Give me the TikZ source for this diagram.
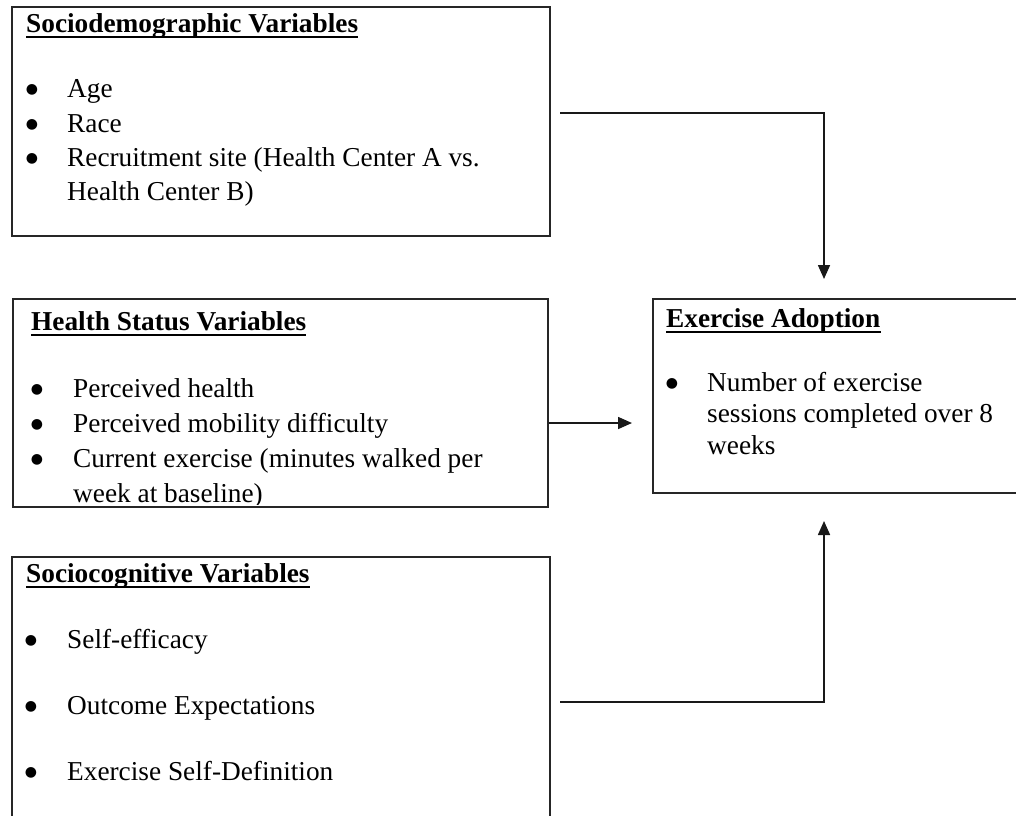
\documentclass[tikz,border=0pt]{standalone}
\usepackage{fontspec}
\setmainfont{Liberation Serif}
\newfontfamily\bulfont{DejaVu Sans}
\usetikzlibrary{arrows.meta}
\begin{document}
\begin{tikzpicture}[x=1pt,y=-1pt,
  box/.style={draw=black!85, line width=1.4pt, inner sep=0pt},
  txt/.style={anchor=base west, inner sep=0pt, font=\fontsize{27.3}{33}\selectfont},
  head/.style={anchor=base west, inner sep=0pt, font=\fontsize{27.3}{33}\selectfont\bfseries},
  bul/.style={anchor=center, inner sep=0pt, font=\bulfont\fontsize{14}{14}\selectfont},
  conn/.style={line width=1.6pt, draw=black!90},
  arr/.style={conn, -{Triangle[length=14pt,width=12pt]}},
  ul/.style={line width=1.8pt}]
\clip (0,0) rectangle (1016,815);
\fill[white] (0,0) rectangle (1016,815);

% boxes
\node[box, minimum width=538pt, minimum height=229pt] (b1) at (281,121.5) {};
\node[box, minimum width=535pt, minimum height=208pt] (b2) at (280.5,403) {};
\node[box, minimum width=538pt, minimum height=278pt] (b3) at (281,696) {};
\node[box, minimum width=377pt, minimum height=194pt] (b4) at (841.5,396) {};

% box 1
\node[head] (h1) at (26,32) {Sociodemographic Variables};
\draw[ul] ([yshift=-5pt]h1.base west) -- ([yshift=-5pt]h1.base east);
\node[bul] (b1d1) at (32,90) {●};
\node[txt] (b1t1) at (67,97.5) {Age};
\node[bul] (b1d2) at (32,124.5) {●};
\node[txt] (b1t2) at (67,132) {Race};
\node[bul] (b1d3) at (32,159) {●};
\node[txt] (b1t3) at (67,166.5) {Recruitment site (Health Center A vs.};
\node[txt] (b1t4) at (67,200.5) {Health Center B)};

% box 2
\node[head] (h2) at (31,330) {Health Status Variables};
\draw[ul] ([yshift=-5pt]h2.base west) -- ([yshift=-5pt]h2.base east);
\node[bul] (b2d1) at (37,389.5) {●};
\node[txt] (b2t1) at (73,397) {Perceived health};
\node[bul] (b2d2) at (37,424.5) {●};
\node[txt] (b2t2) at (73,432) {Perceived mobility difficulty};
\node[bul] (b2d3) at (37,459.5) {●};
\node[txt] (b2t3) at (73,467) {Current exercise (minutes walked per};
\begin{scope}
\clip (13,299) rectangle (548,504);
\node[txt] (b2t4) at (73,502) {week at baseline)};
\end{scope}

% box 3
\node[head] (h3) at (26,582) {Sociocognitive Variables};
\draw[ul] ([yshift=-5pt]h3.base west) -- ([yshift=-5pt]h3.base east);
\node[bul] (b3d1) at (31,640.5) {●};
\node[txt] (b3t1) at (67,648) {Self-efficacy};
\node[bul] (b3d2) at (31,706.5) {●};
\node[txt] (b3t2) at (67,714) {Outcome Expectations};
\node[bul] (b3d3) at (31,772.5) {●};
\node[txt] (b3t3) at (67,780) {Exercise Self-Definition};

% box 4
\node[head] (h4) at (666,327) {Exercise Adoption};
\draw[ul] ([yshift=-5pt]h4.base west) -- ([yshift=-5pt]h4.base east);
\node[bul] (b4d1) at (672,383.5) {●};
\node[txt] (b4t1) at (707,391) {Number of exercise};
\node[txt] (b4t2) at (707,422.5) {sessions completed over 8};
\node[txt] (b4t3) at (707,454) {weeks};

% connectors
\coordinate (c1s) at (560,113);
\coordinate (c1e) at (824,279);
\draw[arr] (c1s) -| (c1e);
\coordinate (c2e) at (632,423);
\draw[arr] (b2.east |- c2e) -- (c2e);
\coordinate (c3s) at (560,702);
\coordinate (c3e) at (824,521);
\draw[arr] (c3s) -| (c3e);
\end{tikzpicture}
\end{document}
